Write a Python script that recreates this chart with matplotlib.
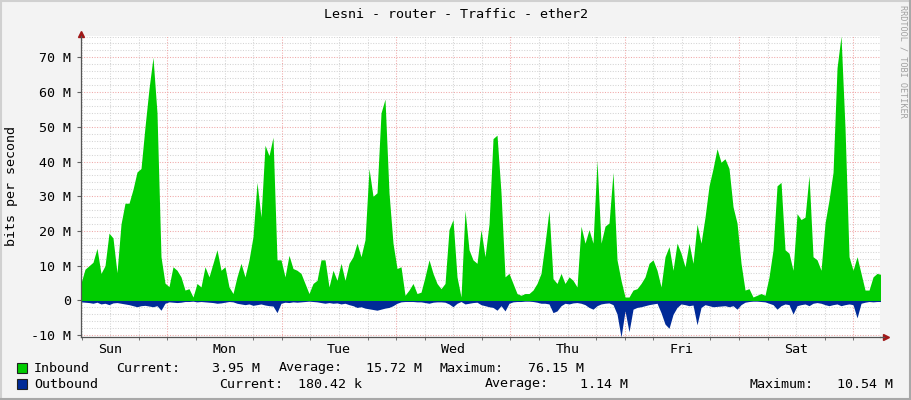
import numpy as np
import matplotlib.pyplot as plt
from matplotlib.lines import Line2D
from matplotlib.patches import Rectangle

# time of first sample (hours since Sunday 00:00) and sample spacing (hours)
t_start = 5.84
t_step = 4 / 4.7625
t_end = 173.6

# traffic in Mbit/s, one sample every ~50 minutes
inbound = [
    5, 9, 10, 11, 15, 7.8, 10, 19.4, 18, 8,
    22, 28, 28, 32, 37, 38, 50, 61, 70, 54,
    12.6, 5, 4, 9.7, 8.7, 6.8, 3, 3.4, 1, 4.9,
    3.9, 9.7, 6.8, 10.7, 14.6, 8.7, 9.7, 3.9, 2, 6.8,
    10.7, 6.8, 11.7, 18.4, 34, 24, 44.7, 41.7, 47, 11.7,
    11.7, 6.8, 13, 9.2, 8.7, 7.8, 4.9, 2, 4.9, 5.8,
    11.7, 11.7, 3.9, 8.7, 5.8, 10.7, 5.8, 10.7, 12.6, 16.5,
    12.6, 17.5, 38, 30, 31, 54, 58, 31, 16.5, 9.2,
    9.7, 1.5, 3, 4.9, 2, 2.4, 6.8, 11.7, 7.8, 4.9,
    3.4, 4.9, 20.4, 23.3, 6.8, 1, 26, 14.6, 11.7, 10.7,
    20.4, 12.6, 22, 46.6, 47.6, 31, 6.8, 7.8, 4.9, 2,
    1.5, 2, 2, 3, 4.9, 7.8, 16.5, 26, 6.3, 4.9,
    7.8, 4.9, 6.8, 5.8, 3.9, 21.4, 16.5, 20.4, 16.5, 40.3,
    16.5, 21.4, 22.3, 36.9, 11.7, 5.8, 1, 1, 3, 3.4,
    4.9, 6.8, 10.7, 11.7, 8.7, 3.9, 12.6, 15.5, 8.7, 16.5,
    13.6, 9.7, 16.5, 10.7, 22, 16.5, 24, 33, 38, 43.7,
    39.8, 40.8, 38, 27, 22.3, 10.7, 3, 3.4, 1, 1.5,
    2, 1.5, 6.8, 14.6, 33, 34, 14.6, 13.6, 8.7, 25,
    23.3, 24, 36, 12.6, 11.7, 8.7, 22.3, 29, 36.9, 67,
    76.15, 49.5, 12.6, 8.7, 12.6, 7.8, 3, 3, 6.8, 7.8,
    7.5,
]
outbound = [
    0.4, 0.5, 0.6, 0.8, 0.5, 1.0, 0.8, 1.2, 0.7, 0.6,
    0.8, 1.0, 1.2, 1.5, 1.8, 1.5, 1.4, 1.6, 1.8, 1.5,
    2.8, 0.8, 0.4, 0.5, 0.6, 0.5, 0.3, 0.3, 0.2, 0.4,
    0.3, 0.4, 0.5, 0.6, 0.8, 0.7, 0.5, 0.3, 0.4, 0.8,
    1.0, 1.2, 1.0, 1.4, 1.2, 1.0, 1.3, 1.5, 1.6, 3.5,
    0.8, 0.5, 0.6, 0.4, 0.5, 0.4, 0.3, 0.2, 0.3, 0.4,
    0.6, 0.8, 0.6, 0.8, 0.7, 1.0, 0.8, 1.2, 1.5, 2.0,
    1.8, 2.2, 2.4, 2.6, 2.8, 2.5, 2.2, 2.0, 1.5, 0.8,
    0.4, 0.3, 0.3, 0.3, 0.4, 0.4, 0.6, 0.8, 0.5, 0.4,
    0.4, 0.5, 1.0, 1.8, 0.8, 0.3, 1.0, 0.8, 0.6, 0.5,
    1.2, 1.5, 1.8, 2.0, 2.8, 1.5, 3.0, 0.8, 0.4, 0.3,
    0.3, 0.2, 0.2, 0.3, 0.5, 0.8, 0.8, 1.0, 3.5, 3.0,
    1.5, 0.8, 1.0, 0.7, 0.6, 0.8, 1.2, 2.0, 2.5, 1.5,
    1.0, 0.8, 0.7, 1.2, 3.9, 10.54, 3.0, 9.0, 2.5, 2.0,
    1.8, 1.5, 1.2, 1.0, 0.8, 3.5, 6.8, 8.0, 4.0, 2.0,
    1.0, 1.2, 1.5, 1.3, 7.0, 2.0, 1.2, 1.5, 1.8, 1.7,
    1.6, 1.5, 1.8, 1.5, 2.5, 1.2, 0.5, 0.3, 0.2, 0.2,
    0.3, 0.4, 0.8, 1.2, 2.5, 1.5, 1.0, 1.2, 3.9, 1.5,
    1.2, 1.0, 1.5, 0.8, 0.6, 0.8, 1.2, 1.5, 1.2, 1.0,
    1.5, 1.2, 1.0, 1.2, 5.0, 0.8, 0.5, 0.3, 0.4, 0.3,
    0.3,
]
days = ['Sun', 'Mon', 'Tue', 'Wed', 'Thu', 'Fri', 'Sat']

title = 'Lesni - router - Traffic - ether2'
legend_rows = [
    ('Inbound', '#00CC00', [('Current:', 116, '3.95 M', 260),
                            ('Average:', 279, '15.72 M', 422),
                            ('Maximum:', 440, '76.15 M', 584)]),
    ('Outbound', '#002A97', [('Current:', 219, '180.42 k', 362),
                             ('Average:', 485, '1.14 M', 628),
                             ('Maximum:', 749, '10.54 M', 893)]),
]

W, H = 911, 400
plt.rcParams['font.family'] = ['DejaVu Sans Mono']
fs = 9.6

fig = plt.figure(figsize=(W / 100, H / 100), dpi=100, facecolor='#F3F3F3')


def fx(x):
    return x / W


def fy(y):
    return 1 - y / H


# plot area in pixels: left 81, right 880, top 36, bottom 336.5
ax = fig.add_axes([fx(81), fy(336.5), fx(880 - 81), (336.5 - 36) / H])
ax.set_facecolor('white')

hours = t_start + t_step * np.arange(len(inbound))
ax.fill_between(hours, 0, inbound, color='#00CC00', lw=0, zorder=3)
ax.fill_between(hours, 0, -np.array(outbound), color='#002A97', lw=0, zorder=3)

ax.set_xlim(t_start, t_end)
ax.set_ylim(-10.37, 76.15)

gray = '#D4D4D4'
red = '#F0A8A8'
dots = (0, (1, 1.5))
for v in range(-10, 77, 2):
    c = red if v % 10 == 0 else gray
    ax.axhline(v, color=c, lw=0.75, ls=dots, zorder=1)
for h in range(6, 174, 6):
    c = red if h % 24 == 0 else gray
    ax.axvline(h, color=c, lw=0.75, ls=dots, zorder=1)

noons = [12 + 24 * k for k in range(len(days))]
ax.set_xticks(noons, days)
ax.set_xticks(list(range(6, 174, 6)), minor=True)
ax.tick_params(axis='x', which='major', length=0, pad=5, labelsize=fs)
ax.tick_params(axis='x', which='minor', length=2.5, color='#606060')

yt = list(range(-10, 71, 10))
ax.set_yticks(yt, [('0' if v == 0 else f'{v} M') for v in yt])
ax.set_yticks(list(range(-10, 77, 2)), minor=True)
ax.tick_params(axis='y', which='major', length=3, pad=4, labelsize=fs, color='#606060')
ax.tick_params(axis='y', which='minor', length=0)

for s in ['top', 'right']:
    ax.spines[s].set_visible(False)
for s in ['left', 'bottom']:
    ax.spines[s].set_color('#555555')
    ax.spines[s].set_linewidth(0.9)
    ax.spines[s].set_zorder(4)

# arrows at the ends of the axes
ax.plot([0], [1.008], marker='^', ms=4, color='#A01818', transform=ax.transAxes, clip_on=False)
ax.plot([1.007], [0], marker='>', ms=4, color='#A01818', transform=ax.transAxes, clip_on=False)
fig.add_artist(Line2D([fx(880), fx(884)], [fy(336.5), fy(336.5)], color='#555555', lw=0.9))

fig.text(fx(12), fy(186), 'bits per second', rotation=90, ha='center', va='center', fontsize=fs)
fig.text(fx(455.5), fy(14), title, ha='center', va='center', fontsize=fs)
fig.text(fx(903), fy(5), 'RRDTOOL / TOBI OETIKER', rotation=270, ha='center', va='top',
         fontsize=6.1, color='#A0A0A0')

for row, (name, color, items) in enumerate(legend_rows):
    yc = 368 + 16 * row
    fig.add_artist(Rectangle((fx(17), fy(yc + 5)), 10 / W, 10 / H, facecolor=color,
                             edgecolor='#202020', lw=0.8, transform=fig.transFigure))
    fig.text(fx(34), fy(yc), name, ha='left', va='center', fontsize=fs)
    for label, lx, val, vx in items:
        fig.text(fx(lx), fy(yc), label, ha='left', va='center', fontsize=fs)
        fig.text(fx(vx), fy(yc), val, ha='right', va='center', fontsize=fs)

# frame around the whole image
fig.add_artist(Line2D([0, 1], [fy(1), fy(1)], color='#D0D0D0', lw=1.5))
fig.add_artist(Line2D([fx(1), fx(1)], [0, 1], color='#D0D0D0', lw=1.5))
fig.add_artist(Line2D([0, 1], [fy(398.5), fy(398.5)], color='#A8A8A8', lw=1.5))
fig.add_artist(Line2D([fx(909.5), fx(909.5)], [0, 1], color='#A8A8A8', lw=1.5))

fig.savefig('out.png', dpi=100, facecolor=fig.get_facecolor())
